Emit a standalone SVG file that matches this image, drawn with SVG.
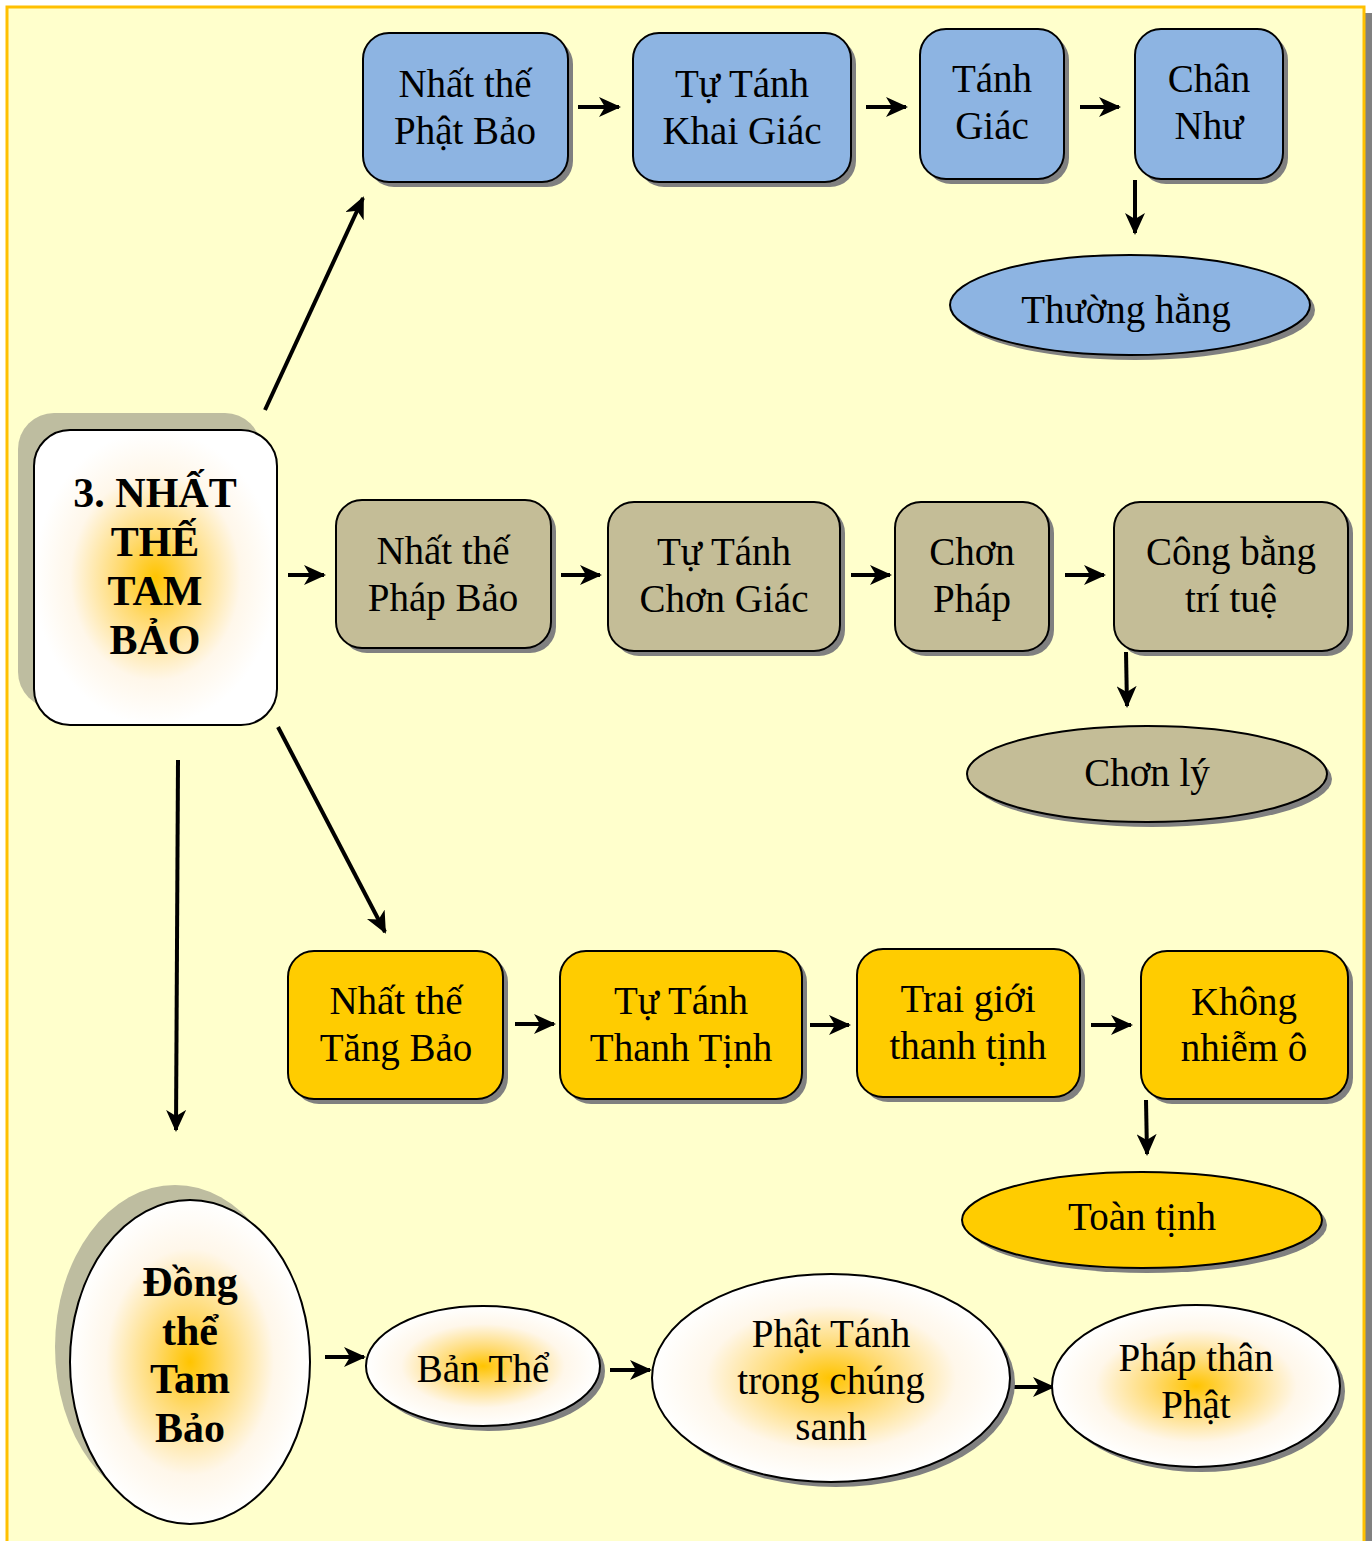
<svg xmlns="http://www.w3.org/2000/svg" width="1372" height="1541" viewBox="0 0 1372 1541">
<defs>
<radialGradient id="glow" cx="0.5" cy="0.5" r="0.5">
<stop offset="0" stop-color="#FFC400"/>
<stop offset="0.3" stop-color="#FFDA70"/>
<stop offset="0.7" stop-color="#FFF7EA"/>
<stop offset="1" stop-color="#FFFFFF"/>
</radialGradient>
<marker id="ah" markerUnits="userSpaceOnUse" markerWidth="22" markerHeight="20" viewBox="0 0 22 20" refX="20" refY="10" orient="auto">
<path d="M0,0 L22,10 L0,20 L6,10 z" fill="#000"/>
</marker>
</defs>
<style>
.t{font-family:"Liberation Serif","Times New Roman",serif;font-size:39px;fill:#000;text-anchor:middle}
.b{font-family:"Liberation Serif","Times New Roman",serif;font-size:42px;font-weight:bold;fill:#000;text-anchor:middle}
.sh{fill:#808080}
.blue{fill:#8DB4E2;stroke:#000;stroke-width:2}
.tan{fill:#C4BD97;stroke:#000;stroke-width:2}
.gold{fill:#FFCC00;stroke:#000;stroke-width:2}
.wh{fill:url(#glow);stroke:#000;stroke-width:2}
.c{stroke:#000;stroke-width:4;fill:none;marker-end:url(#ah)}
</style>
<rect x="1364" y="13" width="8" height="1528" fill="#808080"/>
<rect x="7" y="7" width="1357" height="1545" fill="#FFFFCC" stroke="#FFC000" stroke-width="3"/>

<g id="connectors">
<line class="c" x1="265" y1="410" x2="363" y2="198"/>
<line class="c" x1="288" y1="575" x2="324" y2="575"/>
<line class="c" x1="278" y1="727" x2="385" y2="932"/>
<line class="c" x1="178" y1="760" x2="176" y2="1130"/>
<line class="c" x1="578" y1="107" x2="619" y2="107"/>
<line class="c" x1="866" y1="107" x2="906" y2="107"/>
<line class="c" x1="1080" y1="107" x2="1119" y2="107"/>
<line class="c" x1="1135" y1="180" x2="1135" y2="233"/>
<line class="c" x1="561" y1="575" x2="600" y2="575"/>
<line class="c" x1="851" y1="575" x2="890" y2="575"/>
<line class="c" x1="1065" y1="575" x2="1104" y2="575"/>
<line class="c" x1="1126" y1="652" x2="1127" y2="706"/>
<line class="c" x1="515" y1="1024" x2="554" y2="1024"/>
<line class="c" x1="810" y1="1025" x2="849" y2="1025"/>
<line class="c" x1="1091" y1="1025" x2="1131" y2="1025"/>
<line class="c" x1="1146" y1="1100" x2="1147" y2="1154"/>
<line class="c" x1="325" y1="1357" x2="364" y2="1357"/>
<line class="c" x1="610" y1="1370" x2="650" y2="1370"/>
<line class="c" x1="1012" y1="1387" x2="1053" y2="1387"/>
</g>

<g id="main">
<rect x="18" y="413" width="243" height="295" rx="36" fill="#BEBDA0"/>
<rect x="34" y="430" width="243" height="295" rx="36" class="wh"/>
<text class="b" x="155" y="507">3. NHẤT</text>
<text class="b" x="155" y="556">THẾ</text>
<text class="b" x="155" y="605">TAM</text>
<text class="b" x="155" y="654">BẢO</text>
</g>

<g id="p1"><rect class="sh" x="368" y="38" width="205" height="149" rx="26"/><rect class="blue" x="363" y="33" width="205" height="149" rx="26"/>
<text class="t" x="465" y="97">Nhất thế</text><text class="t" x="465" y="144">Phật Bảo</text></g>
<g id="p2"><rect class="sh" x="638" y="38" width="218" height="149" rx="26"/><rect class="blue" x="633" y="33" width="218" height="149" rx="26"/>
<text class="t" x="742" y="97">Tự Tánh</text><text class="t" x="742" y="144">Khai Giác</text></g>
<g id="p3"><rect class="sh" x="925" y="34" width="144" height="150" rx="26"/><rect class="blue" x="920" y="29" width="144" height="150" rx="26"/>
<text class="t" x="992" y="92">Tánh</text><text class="t" x="992" y="139">Giác</text></g>
<g id="p4"><rect class="sh" x="1140" y="34" width="148" height="150" rx="26"/><rect class="blue" x="1135" y="29" width="148" height="150" rx="26"/>
<text class="t" x="1209" y="92">Chân</text><text class="t" x="1209" y="139">Như</text></g>
<g id="p5"><ellipse class="sh" cx="1135" cy="310" rx="180" ry="50"/><ellipse class="blue" cx="1130" cy="305" rx="180" ry="50"/>
<text class="t" x="1126" y="323">Thường hằng</text></g>

<g id="f1"><rect class="sh" x="341" y="505" width="215" height="148" rx="26"/><rect class="tan" x="336" y="500" width="215" height="148" rx="26"/>
<text class="t" x="443" y="564">Nhất thế</text><text class="t" x="443" y="611">Pháp Bảo</text></g>
<g id="f2"><rect class="sh" x="613" y="507" width="232" height="149" rx="26"/><rect class="tan" x="608" y="502" width="232" height="149" rx="26"/>
<text class="t" x="724" y="565">Tự Tánh</text><text class="t" x="724" y="612">Chơn Giác</text></g>
<g id="f3"><rect class="sh" x="900" y="507" width="154" height="149" rx="26"/><rect class="tan" x="895" y="502" width="154" height="149" rx="26"/>
<text class="t" x="972" y="565">Chơn</text><text class="t" x="972" y="612">Pháp</text></g>
<g id="f4"><rect class="sh" x="1119" y="507" width="234" height="149" rx="26"/><rect class="tan" x="1114" y="502" width="234" height="149" rx="26"/>
<text class="t" x="1231" y="565">Công bằng</text><text class="t" x="1231" y="612">trí tuệ</text></g>
<g id="f5"><ellipse class="sh" cx="1152" cy="779" rx="180" ry="48"/><ellipse class="tan" cx="1147" cy="774" rx="180" ry="48"/>
<text class="t" x="1147" y="786">Chơn lý</text></g>

<g id="s1"><rect class="sh" x="293" y="956" width="215" height="148" rx="26"/><rect class="gold" x="288" y="951" width="215" height="148" rx="26"/>
<text class="t" x="396" y="1014">Nhất thế</text><text class="t" x="396" y="1061">Tăng Bảo</text></g>
<g id="s2"><rect class="sh" x="565" y="956" width="242" height="148" rx="26"/><rect class="gold" x="560" y="951" width="242" height="148" rx="26"/>
<text class="t" x="681" y="1014">Tự Tánh</text><text class="t" x="681" y="1061">Thanh Tịnh</text></g>
<g id="s3"><rect class="sh" x="862" y="954" width="223" height="148" rx="26"/><rect class="gold" x="857" y="949" width="223" height="148" rx="26"/>
<text class="t" x="968" y="1012">Trai giới</text><text class="t" x="968" y="1059">thanh tịnh</text></g>
<g id="s4"><rect class="sh" x="1146" y="956" width="207" height="148" rx="26"/><rect class="gold" x="1141" y="951" width="207" height="148" rx="26"/>
<text class="t" x="1244" y="1015">Không</text><text class="t" x="1244" y="1061">nhiễm ô</text></g>
<g id="s5"><ellipse class="sh" cx="1147" cy="1225" rx="180" ry="48"/><ellipse class="gold" cx="1142" cy="1220" rx="180" ry="48"/>
<text class="t" x="1142" y="1230">Toàn tịnh</text></g>

<g id="dong">
<ellipse cx="175" cy="1347" rx="120" ry="162" fill="#BEBDA0"/>
<ellipse class="wh" cx="190" cy="1362" rx="120" ry="162"/>
<text class="b" x="190" y="1296">Đồng</text>
<text class="b" x="190" y="1345">thể</text>
<text class="b" x="190" y="1393">Tam</text>
<text class="b" x="190" y="1442">Bảo</text>
</g>
<g id="banthe"><ellipse class="sh" cx="488" cy="1371" rx="117" ry="60"/><ellipse class="wh" cx="483" cy="1366" rx="117" ry="60"/>
<text class="t" x="483" y="1382">Bản Thể</text></g>
<g id="phattanh"><ellipse class="sh" cx="836" cy="1383" rx="179" ry="104"/><ellipse class="wh" cx="831" cy="1378" rx="179" ry="104"/>
<text class="t" x="831" y="1347">Phật Tánh</text><text class="t" x="831" y="1394">trong chúng</text><text class="t" x="831" y="1440">sanh</text></g>
<g id="phapthan"><ellipse class="sh" cx="1201" cy="1391" rx="144" ry="81"/><ellipse class="wh" cx="1196" cy="1386" rx="144" ry="81"/>
<text class="t" x="1196" y="1371">Pháp thân</text><text class="t" x="1196" y="1418">Phật</text></g>
</svg>
